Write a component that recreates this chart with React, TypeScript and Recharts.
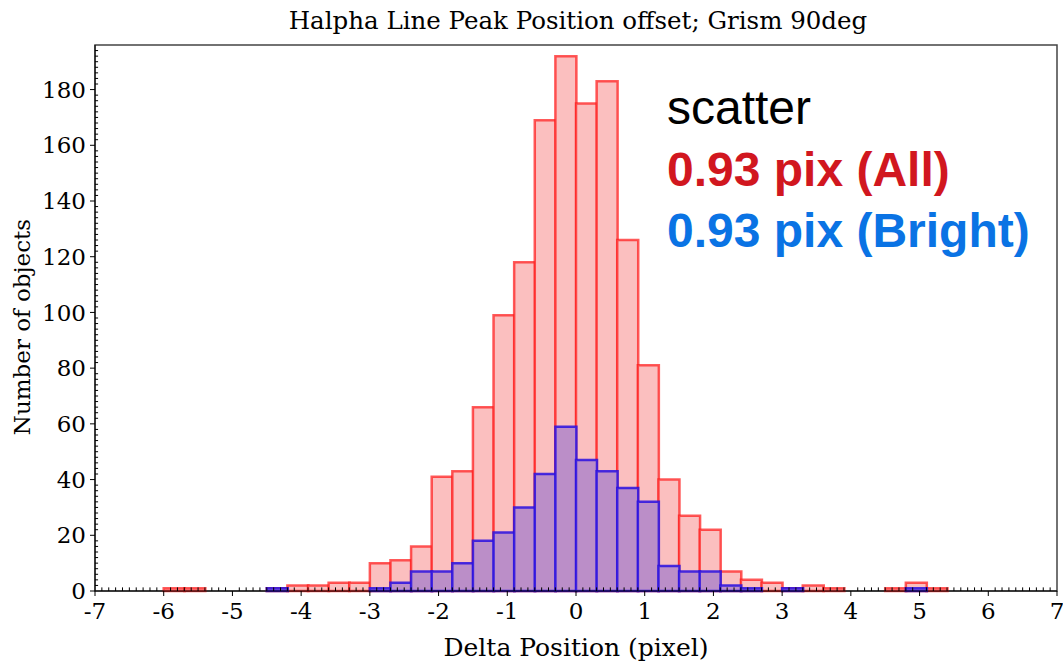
import { ComposedChart, Bar, XAxis, YAxis, ReferenceLine, ReferenceArea } from "recharts";

// bin centres (0.3 pixel wide bins)
const binCenters = [
  -5.85, -5.55, -5.25, -4.95, -4.65, -4.35, -4.05, -3.75, -3.45, -3.15,
  -2.85, -2.55, -2.25, -1.95, -1.65, -1.35, -1.05, -0.75, -0.45, -0.15,
  0.15, 0.45, 0.75, 1.05, 1.35, 1.65, 1.95, 2.25, 2.55, 2.85,
  3.15, 3.45, 3.75, 4.05, 4.35, 4.65, 4.95, 5.25,
];
const allCounts = [
  1, 1, 0, 0, 0, 1, 2, 2, 3, 3,
  10, 11, 16, 41, 43, 66, 99, 118, 169, 192,
  175, 183, 126, 81, 40, 27, 22, 7, 4, 3,
  1, 2, 1, 0, 0, 1, 3, 1,
];
const brightCounts = [
  0, 0, 0, 0, 0, 1, 0, 0, 0, 0,
  1, 3, 7, 7, 10, 18, 21, 30, 42, 59,
  47, 43, 37, 32, 9, 7, 7, 2, 1, 0,
  1, 0, 0, 0, 0, 0, 1, 0,
];
const xTicks = [-7, -6, -5, -4, -3, -2, -1, 0, 1, 2, 3, 4, 5, 6, 7];
const yTicks = [0, 20, 40, 60, 80, 100, 120, 140, 160, 180];

const data = binCenters.map((x, i) => ({ x, all: allCounts[i], bright: brightCounts[i] }));

// minor tick positions
const xMinor = Array.from({ length: 141 }, (_, i) => Math.round((-7 + i * 0.1) * 10) / 10).filter(
  (v) => !Number.isInteger(v)
);
const yMinor = Array.from({ length: 98 }, (_, i) => i * 2).filter((v) => v % 20 !== 0);

const serif = "DejaVu Serif";
const sans = "Liberation Sans, Arial, sans-serif";

export default function App() {
  return (
    <div style={{ position: "absolute", left: 0, top: 0, width: 1063, height: 662, background: "#fff" }}>
      <ComposedChart
        width={1063}
        height={662}
        data={data}
        margin={{ top: 45, right: 6, bottom: 0, left: 0 }}
        barCategoryGap={0}
        barGap={0}
      >
        <XAxis
          xAxisId="all"
          dataKey="x"
          type="number"
          domain={[-7, 7]}
          ticks={xTicks}
          interval={0}
          height={71}
          tickSize={5}
          tickMargin={7}
          tick={{ fontFamily: serif, fontSize: 23, fill: "#000" }}
          stroke="#000"
          label={{
            value: "Delta Position (pixel)",
            position: "insideBottom",
            offset: 6,
            style: { fontFamily: serif, fontSize: 25, fill: "#000" },
          }}
        />
        <XAxis xAxisId="bright" dataKey="x" type="number" domain={[-7, 7]} hide />
        <YAxis
          domain={[0, 196]}
          ticks={yTicks}
          interval={0}
          width={95}
          tickSize={5}
          tickMargin={4}
          tick={{ fontFamily: serif, fontSize: 23, fill: "#000" }}
          stroke="#000"
        />
        <ReferenceArea
          xAxisId="all"
          x1={-7}
          x2={7}
          y1={0}
          y2={196}
          fill="none"
          stroke="#444"
          strokeWidth={1.5}
          ifOverflow="visible"
        />
        <Bar
          xAxisId="all"
          dataKey="all"
          fill="#fbbfbf"
          stroke="#ff1a1a"
          strokeOpacity={0.72}
          strokeWidth={2.5}
          isAnimationActive={false}
        />
        <Bar
          xAxisId="bright"
          dataKey="bright"
          fill="#bb8ec8"
          stroke="#2a10e0"
          strokeOpacity={0.85}
          strokeWidth={2.5}
          isAnimationActive={false}
        />
        {xMinor.map((v) => (
          <ReferenceLine
            key={`xm${v}`}
            xAxisId="all"
            segment={[{ x: v, y: 0 }, { x: v, y: 1.3 }]}
            stroke="#000"
            strokeWidth={1}
            ifOverflow="visible"
          />
        ))}
        {yMinor.map((v) => (
          <ReferenceLine
            key={`ym${v}`}
            xAxisId="all"
            segment={[{ x: -7, y: v }, { x: -6.955, y: v }]}
            stroke="#000"
            strokeWidth={1}
            ifOverflow="visible"
          />
        ))}
      </ComposedChart>
      <svg
        width={1063}
        height={662}
        style={{ position: "absolute", left: 0, top: 0, pointerEvents: "none" }}
      >
        <text x={578} y={29} textAnchor="middle" fontFamily={serif} fontSize={24.5} fill="#000">
          Halpha Line Peak Position offset; Grism 90deg
        </text>
        <text
          x={0}
          y={0}
          transform="translate(30 327) rotate(-90)"
          textAnchor="middle"
          fontFamily={serif}
          fontSize={23}
          fill="#000"
        >
          Number of objects
        </text>
        <text x={667} y={124} fontFamily={sans} fontSize={48} fill="#000">
          scatter
        </text>
        <text x={667} y={186} fontFamily={sans} fontSize={48} fontWeight="bold" fill="#d1171f">
          0.93 pix (All)
        </text>
        <text x={667} y={247} fontFamily={sans} fontSize={48} fontWeight="bold" fill="#0a73e4">
          0.93 pix (Bright)
        </text>
      </svg>
    </div>
  );
}
